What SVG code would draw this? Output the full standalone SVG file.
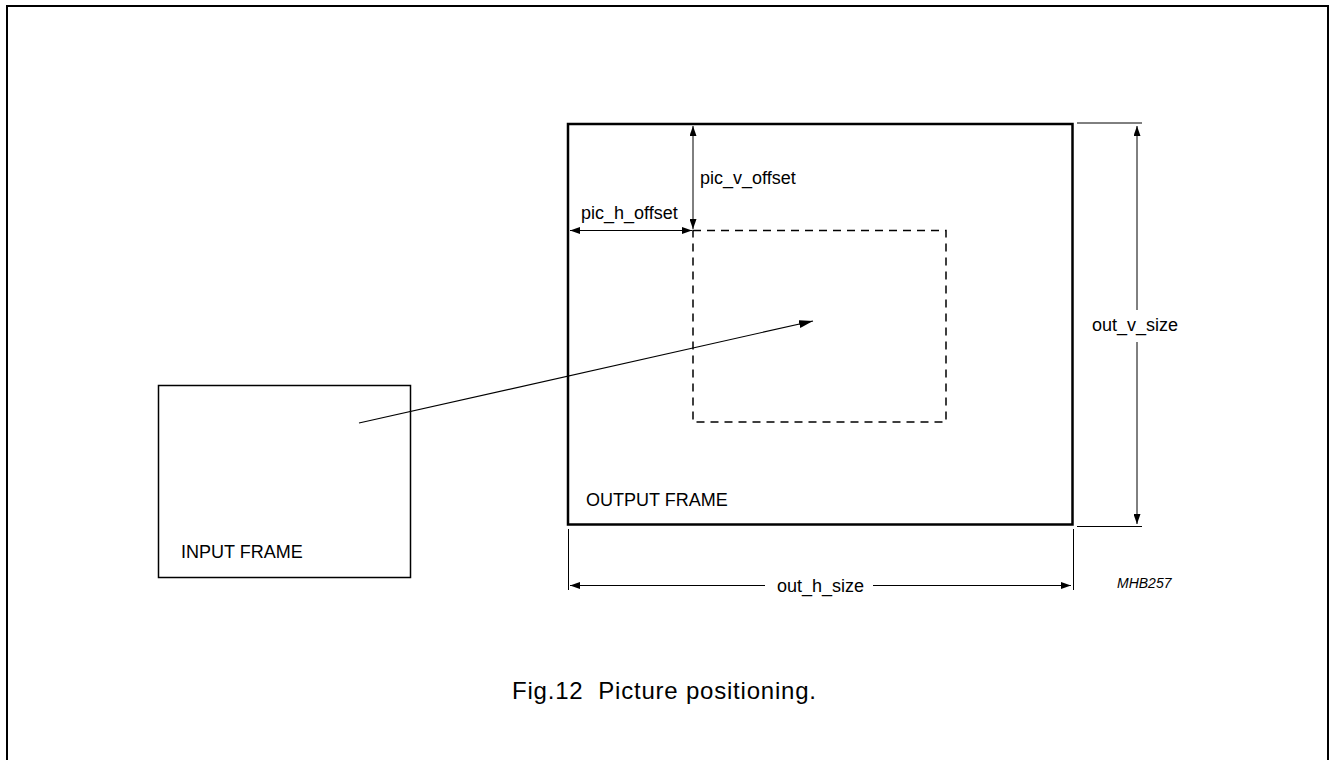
<svg xmlns="http://www.w3.org/2000/svg" width="1329" height="760" viewBox="0 0 1329 760">
<style>
text{font-family:"Liberation Sans",Arial,sans-serif;font-size:18px;fill:#000}
.frame{fill:none;stroke:#000}
.dim{fill:none;stroke:#000;stroke-width:1}
.arr{marker-end:url(#ah);marker-start:url(#ah)}
</style>
<defs>
<marker id="ah" viewBox="0 0 10 7" refX="10" refY="3.5" markerWidth="11" markerHeight="7" markerUnits="userSpaceOnUse" orient="auto-start-reverse">
<path d="M0,0 L10,3.5 L0,7 z" fill="#000"/>
</marker>
<marker id="ah2" viewBox="0 0 14 8" refX="14" refY="4" markerWidth="14" markerHeight="8" markerUnits="userSpaceOnUse" orient="auto">
<path d="M0,0 L14,4 L0,8 z" fill="#000"/>
</marker>
</defs>
<rect id="border" x="7" y="6" width="1321" height="760" fill="none" stroke="#000" stroke-width="2"/>
<g id="input-frame">
<rect class="frame" x="158.5" y="385.5" width="252" height="192" stroke-width="1.5"/>
<text x="181" y="558">INPUT FRAME</text>
</g>
<g id="output-frame">
<rect class="frame" x="568" y="124" width="504.5" height="400.5" stroke-width="2.5"/>
<text x="586" y="506">OUTPUT FRAME</text>
</g>
<g id="picture">
<rect class="frame" x="693" y="230.5" width="253" height="191.5" stroke-width="1.5" stroke-dasharray="8,6"/>
</g>
<g id="connectors">
<line x1="359" y1="423" x2="813" y2="321" stroke="#000" stroke-width="1.2" marker-end="url(#ah2)"/>
<line class="dim arr" x1="693" y1="126" x2="693" y2="229"/>
<line class="dim arr" x1="570" y1="230.5" x2="692" y2="230.5"/>
<line class="dim" x1="1077" y1="123" x2="1142" y2="123"/>
<line class="dim" x1="1077" y1="526.5" x2="1142" y2="526.5"/>
<line class="dim" x1="1137" y1="126" x2="1137" y2="310" marker-start="url(#ah)"/>
<line class="dim" x1="1137" y1="342" x2="1137" y2="524" marker-end="url(#ah)"/>
<line class="dim" x1="568.5" y1="529" x2="568.5" y2="590"/>
<line class="dim" x1="1073.5" y1="529" x2="1073.5" y2="590"/>
<line class="dim" x1="570" y1="585.5" x2="765" y2="585.5" marker-start="url(#ah)"/>
<line class="dim" x1="873" y1="585.5" x2="1071" y2="585.5" marker-end="url(#ah)"/>
</g>
<g id="labels">
<text x="700" y="184">pic_v_offset</text>
<text x="581" y="219">pic_h_offset</text>
<text x="1092" y="331">out_v_size</text>
<text x="777" y="592">out_h_size</text>
<text x="1117" y="588" style="font-size:14px;font-style:italic">MHB257</text>
<text x="512" y="699" style="font-size:24px" textLength="304" lengthAdjust="spacing">Fig.12&#160; Picture positioning.</text>
</g>
</svg>
